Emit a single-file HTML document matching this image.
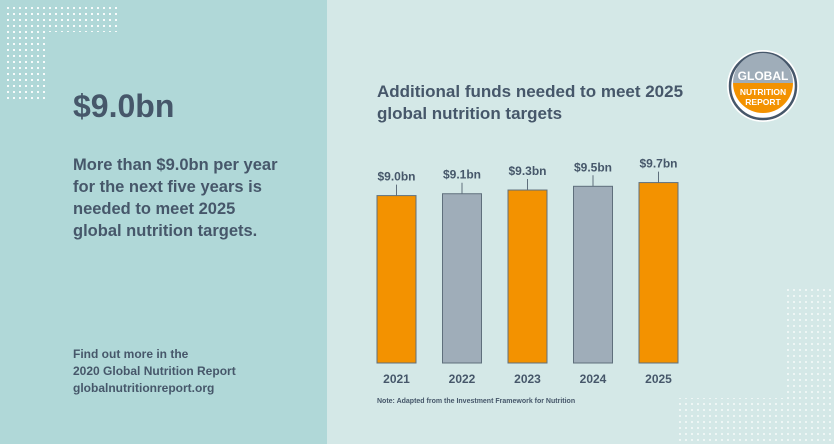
<!DOCTYPE html>
<html><head><meta charset="utf-8"><style>
body{margin:0;width:834px;height:444px;overflow:hidden;font-family:"Liberation Sans",sans-serif;}
.wrap{position:relative;width:834px;height:444px;background:#d4e8e7;}
.left{position:absolute;left:0;top:0;width:327px;height:444px;background:#b0d8d8;}
.t{position:absolute;color:#46576a;font-weight:bold;}
</style></head><body>
<div class="wrap">
<div class="left"></div>
<svg width="834" height="444" style="position:absolute;left:0;top:0">
<defs><pattern id="dots" width="6" height="6" patternUnits="userSpaceOnUse"><rect x="1" y="1" width="2" height="2" fill="#fff" opacity="0.9"/></pattern>
<pattern id="dots2" width="6" height="6" patternUnits="userSpaceOnUse"><rect x="1" y="1" width="2" height="2" fill="#fff" opacity="0.6"/></pattern></defs>
<path d="M7 7 H118 V32 H46 V100 H7 Z" fill="url(#dots)"/>
<path d="M786 286 H834 V444 H676 V398 H786 Z" fill="url(#dots2)"/>
<g>
<circle cx="763" cy="86" r="36" fill="#fff"/>
<circle cx="763" cy="86" r="33" fill="none" stroke="#46576a" stroke-width="2.5"/>
<path d="M733 83 A30 30 0 0 1 793 83 Z" fill="#9fadb9"/>
<path d="M733 83 A30 30 0 0 0 793 83 Z" fill="#f39200"/>
<text x="763" y="80" text-anchor="middle" font-size="12" font-weight="bold" fill="#fff">GLOBAL</text>
<text x="763" y="95" text-anchor="middle" font-size="8.5" font-weight="bold" fill="#fff">NUTRITION</text>
<text x="763" y="105" text-anchor="middle" font-size="8.5" font-weight="bold" fill="#fff">REPORT</text>
</g>
</svg>
<div class="t" style="left:73px;top:88px;font-size:32px;">$9.0bn</div>
<div class="t" style="left:73px;top:154px;font-size:16.5px;line-height:22px;white-space:nowrap;">More than $9.0bn per year<br>for the next five years is<br>needed to meet 2025<br>global nutrition targets.</div>
<div class="t" style="left:73px;top:346px;font-size:12px;line-height:17px;">Find out more in the<br>2020 Global Nutrition Report<br>globalnutritionreport.org</div>
<div class="t" style="left:377px;top:81px;font-size:17px;line-height:22px;">Additional funds needed to meet 2025<br>global nutrition targets</div>
<svg id="chart" width="834" height="444" style="position:absolute;left:0;top:0"></svg>
<div class="t" style="left:377px;top:398px;font-size:7px;">Note: Adapted from the Investment Framework for Nutrition</div>
</div>
<script>
const years=["2021","2022","2023","2024","2025"];
const values=[9.0,9.1,9.3,9.5,9.7];
const valueLabels=["$9.0bn","$9.1bn","$9.3bn","$9.5bn","$9.7bn"];
const colors=["#f39200","#9fadb9","#f39200","#9fadb9","#f39200"];
const svg=document.getElementById('chart');
const NS='http://www.w3.org/2000/svg';
const base=363, pxPer=18.6, x0=377, step=65.5, bw=39;
const y=v=>base-v*pxPer;
const x=i=>x0+i*step;
years.forEach((yr,i)=>{
 const top=y(values[i]);
 const r=document.createElementNS(NS,'rect');
 r.setAttribute('x',x(i));r.setAttribute('y',top);r.setAttribute('width',bw);r.setAttribute('height',base-top);
 r.setAttribute('fill',colors[i]);r.setAttribute('stroke','#5f6f7c');r.setAttribute('stroke-width','1');
 
 
 svg.appendChild(r);
 const l=document.createElementNS(NS,'line');
 l.setAttribute('x1',x(i)+bw/2);l.setAttribute('x2',x(i)+bw/2);l.setAttribute('y1',top);l.setAttribute('y2',top-11);
 l.setAttribute('stroke','#5f6f7c');l.setAttribute('stroke-width','1');
 
 
 svg.appendChild(l);
 const t=document.createElementNS(NS,'text');
 t.setAttribute('x',x(i)+bw/2);t.setAttribute('y',top-15);t.setAttribute('text-anchor','middle');
 t.setAttribute('font-size','12');t.setAttribute('font-weight','bold');t.setAttribute('fill','#46576a');
 t.textContent=valueLabels[i];
 
 
 svg.appendChild(t);
 const c=document.createElementNS(NS,'text');
 c.setAttribute('x',x(i)+bw/2);c.setAttribute('y',383);c.setAttribute('text-anchor','middle');
 c.setAttribute('font-size','12');c.setAttribute('font-weight','bold');c.setAttribute('fill','#46576a');
 c.textContent=yr;
 
 
 svg.appendChild(c);
});
</script>
</body></html>
